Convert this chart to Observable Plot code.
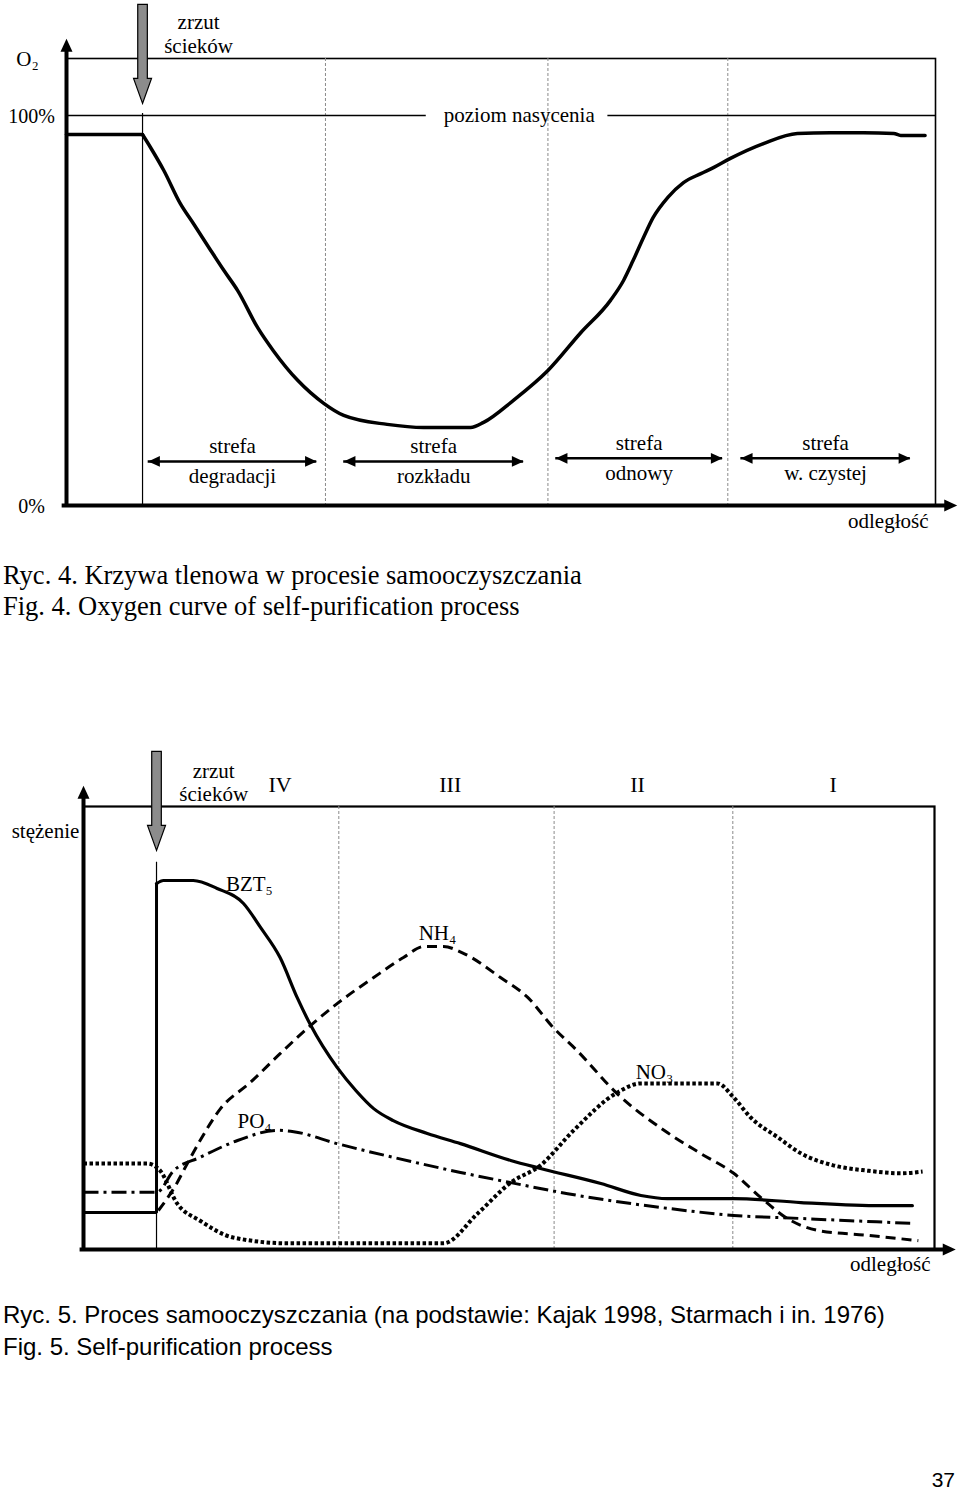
<!DOCTYPE html>
<html>
<head>
<meta charset="utf-8">
<script src="https://cdn.jsdelivr.net/npm/d3@7"></script>
<script src="https://cdn.jsdelivr.net/npm/@observablehq/plot@0.6"></script>
<style>
  html, body { margin: 0; padding: 0; background: #fff; }
  body { width: 960px; height: 1494px; position: relative; overflow: hidden; color: #000; }
  #fig4 { position: absolute; left: 0; top: 0; }
  #fig5 { position: absolute; left: 0; top: 740px; }
  .cap { position: absolute; left: 3px; white-space: nowrap; color: #000; }
  #cap4 { top: 559.5px; font: 26.5px/31px "Liberation Serif", "Times New Roman", serif; }
  #cap5 { top: 1299px; font: 24px/32px "Liberation Sans", Arial, sans-serif; }
  #page { position: absolute; right: 5px; top: 1466px; font: 21px/28px "Liberation Sans", Arial, sans-serif; }
</style>
</head>
<body>
<div id="fig4"></div>
<div id="cap4" class="cap">Ryc. 4. Krzywa tlenowa w procesie samooczyszczania<br>Fig. 4. Oxygen curve of self-purification process</div>
<div id="fig5"></div>
<div id="cap5" class="cap">Ryc. 5. Proces samooczyszczania (na podstawie: Kajak 1998, Starmach i in. 1976)<br>Fig. 5. Self-purification process</div>
<div id="page">37</div>
<script>
// ================= Fig. 4 data (x: relative distance 0–100, y: O2 in % of saturation) =================
const o2Distance = [0, 8.75, 9.67, 11.2, 13.1, 14.6, 16.6, 18.1, 19.7, 22.0, 23.8, 26.6, 29.6, 31.9, 36.9, 41.1, 46.5, 48.0, 51.4, 55.4, 59.1, 62.6, 64.1, 65.2, 66.4, 67.5, 69.2, 71.0, 73.0, 74.5, 76.4, 80.2, 84.1, 87.9, 91.7, 95.2, 96.0, 98.8];
const o2Percent  = [95.1, 95.1, 91.8, 85.9, 77.4, 72.3, 65.4, 60.3, 55.1, 45.6, 39.7, 32.1, 26.2, 23.1, 20.8, 20.0, 20.0, 21.3, 26.9, 34.6, 44.1, 52.6, 57.7, 62.8, 68.7, 73.8, 79.0, 82.8, 85.1, 86.7, 89.0, 92.8, 95.4, 95.6, 95.6, 95.4, 94.9, 94.9];
const o2Discharge = 8.75;
const o2ZoneBounds = [29.8, 55.4, 76.1];
const o2ZoneStart = [9.4, 31.9, 56.3, 77.6];
const o2ZoneEnd   = [28.8, 52.6, 75.5, 97.1];
const o2ZoneLevel = [11.3, 11.3, 12.1, 12.1];
const o2ZoneWord  = ["strefa", "strefa", "strefa", "strefa"];
const o2ZoneName  = ["degradacji", "rozkładu", "odnowy", "w. czystej"];
const o2Ticks = [0, 100];
const o2Saturation = 100;
const o2SaturationFrom = [0, 62.3];
const o2SaturationTo   = [41.4, 100];
const o2SaturationLabelX = 52.1;
const o2DischargeLabelX = 15.2;
const o2AxisEndX = 102.5, o2AxisEndY = 119.7, o2ArrowTip = 103.1;

// ================= Fig. 5 data (x: relative distance 0–100, y: relative concentration 0–100) =================
const bztDistance = [0, 8.58, 8.58, 9.4, 12.9, 15.7, 18.8, 20.8, 23.1, 25.1, 26.7, 29.8, 32.0, 34.1, 36.4, 40.4, 44.3, 50.2, 53.7, 60.8, 65.5, 68.6, 76.4, 84.3, 93.7, 97.4];
const bztValue    = [8.35, 8.35, 82.6, 83.3, 83.3, 81.5, 78.1, 72.7, 65.9, 56.9, 50.6, 41.1, 35.9, 31.8, 29.1, 26.2, 23.9, 20.1, 18.3, 14.9, 12.2, 11.5, 11.5, 10.6, 9.9, 9.9];
const nh4Distance = [8.8, 10.8, 12.2, 13.7, 16.1, 19.6, 23.1, 26.7, 29.8, 34.1, 37.6, 40.0, 42.3, 44.7, 49.0, 52.2, 55.2, 58.0, 62.7, 68.6, 72.5, 76.4, 79.6, 82.7, 86.3, 92.1, 98.1];
const nh4Value    = [8.8, 14.4, 19.4, 24.6, 31.8, 37.7, 44.2, 50.6, 55.5, 61.4, 65.9, 68.4, 68.4, 66.8, 61.4, 56.9, 50.1, 44.9, 35.2, 26.4, 21.7, 17.2, 11.7, 7.0, 4.3, 3.2, 2.0];
const po4Distance = [0, 8.6, 10.6, 13.7, 18.1, 22.8, 24.7, 29.8, 36.4, 44.3, 50.2, 56.9, 68.6, 76.4, 84.3, 97.2];
const po4Value    = [12.9, 12.9, 17.8, 20.8, 24.6, 26.9, 26.6, 23.9, 20.8, 17.4, 15.1, 12.6, 9.3, 7.7, 7.0, 5.9];
const no3Distance = [0, 7.5, 9.0, 11.0, 13.7, 17.6, 24.0, 42.3, 46.3, 50.2, 53.7, 57.6, 62.7, 65.5, 74.5, 76.4, 78.4, 81.6, 84.3, 88.1, 92.1, 96.0, 98.6];
const no3Value    = [19.4, 19.4, 17.8, 10.4, 6.5, 2.7, 1.4, 1.4, 8.1, 15.1, 19.0, 26.9, 35.4, 37.5, 37.5, 34.3, 29.8, 25.3, 21.7, 19.0, 17.8, 17.2, 17.6];
const chemDischarge = 8.58;
const chemZoneBounds = [30.0, 55.3, 76.3];
const chemZoneRoman  = ["IV", "III", "II", "I"];
const chemZoneRomanX = [23.1, 43.1, 65.1, 88.1];
const chemLabel  = ["BZT₅", "NH₄", "NO₃", "PO₄"];
const chemLabelX = [19.5, 41.6, 67.1, 20.1];
const chemLabelY = [81.0, 69.8, 38.6, 27.5];
const chemDischargeLabelX = 15.3;
const chemAxisEndX = 102.5, chemAxisEndY = 104.7, chemArrowTip = 90.1, chemDischargeLineTop = 87.4;

// ================= helpers =================
const rows = (xs, ys) => xs.map((x, i) => ({x, y: ys[i]}));
const serif = '"Liberation Serif", "Times New Roman", serif';
const K = v => () => v;

// filled triangle, tip at the anchor point, pointing in direction `angle`
function tri(angle) {
  const c = Math.cos(angle), s = Math.sin(angle);
  return {
    draw(ctx, size) {
      const r = Math.sqrt(size / Math.PI);
      const L = 1.3 * r, W = 0.6 * r;
      const p = [[0, 0], [-L, -W], [-L, W]].map(([x, y]) => [x * c - y * s, x * s + y * c]);
      ctx.moveTo(p[0][0], p[0][1]);
      ctx.lineTo(p[1][0], p[1][1]);
      ctx.lineTo(p[2][0], p[2][1]);
      ctx.closePath();
    }
  };
}
const triLeft = tri(Math.PI), triRight = tri(0), triUp = tri(-Math.PI / 2);
// grey "sewage discharge" arrow, tip at the anchor point
const dischargeArrow = {
  draw(ctx, size) {
    const k = Math.sqrt(size / Math.PI) / 10;
    const hw = 9 * k, hl = 25 * k, sw = 4.8 * k, sl = 74 * k;
    ctx.moveTo(0, 0);
    ctx.lineTo(-hw, -hl);
    ctx.lineTo(-sw, -hl);
    ctx.lineTo(-sw, -hl - sl);
    ctx.lineTo(sw, -hl - sl);
    ctx.lineTo(sw, -hl);
    ctx.lineTo(hw, -hl);
    ctx.closePath();
  }
};

// ================= Fig. 4 =================
const zones4 = o2ZoneStart.map((s, i) => ({
  start: s, end: o2ZoneEnd[i], mid: (s + o2ZoneEnd[i]) / 2,
  level: o2ZoneLevel[i], word: o2ZoneWord[i], name: o2ZoneName[i]
}));
const sat4 = o2SaturationFrom.map((s, i) => ({x1: s, x2: o2SaturationTo[i]}));
const o2Rows = rows(o2Distance, o2Percent);

const fig4 = Plot.plot({
  width: 960, height: 545,
  marginLeft: 66, marginRight: 25, marginTop: 58, marginBottom: 40,
  x: {domain: [0, 100], axis: null},
  y: {domain: [0, 100], range: [505, 115], axis: null},
  style: {fontFamily: serif, background: "#fff", color: "#000", overflow: "visible"},
  marks: [
    Plot.frame({stroke: "#000", strokeWidth: 1.6}),
    Plot.ruleX(o2ZoneBounds, {x: d => d, stroke: "#8a8a8a", strokeWidth: 1, strokeDasharray: "3,2"}),
    Plot.ruleY(sat4, {y: K(o2Saturation), x1: "x1", x2: "x2", stroke: "#000", strokeWidth: 1.5}),
    Plot.text(["poziom nasycenia"], {x: K(o2SaturationLabelX), y: K(o2Saturation), text: d => d, fontSize: 21}),
    Plot.ruleX([o2Discharge], {x: d => d, y1: K(0), y2: K(o2Saturation + 0.5), stroke: "#000", strokeWidth: 1.2}),
    Plot.line(o2Rows.slice(0, 2), {x: "x", y: "y", stroke: "#000", strokeWidth: 3.5}),
    Plot.line(o2Rows.slice(1), {x: "x", y: "y", curve: "monotone-x", stroke: "#000", strokeWidth: 3.5}),
    Plot.ruleY(zones4, {y: "level", x1: "start", x2: "end", stroke: "#000", strokeWidth: 2.6}),
    Plot.dot(zones4, {x: "start", y: "level", symbol: triLeft, r: 9, fill: "#000", stroke: "none"}),
    Plot.dot(zones4, {x: "end", y: "level", symbol: triRight, r: 9, fill: "#000", stroke: "none"}),
    Plot.text(zones4, {x: "mid", y: "level", text: "word", lineAnchor: "bottom", dy: -8, fontSize: 21}),
    Plot.text(zones4, {x: "mid", y: "level", text: "name", lineAnchor: "top", dy: 7, fontSize: 21}),
    // axes
    Plot.ruleY([0], {y: d => d, x1: K(-0.5), x2: K(o2AxisEndX - 1), stroke: "#000", strokeWidth: 4}),
    Plot.dot([0], {x: K(o2AxisEndX), y: d => d, symbol: triRight, r: 10, fill: "#000", stroke: "none"}),
    Plot.ruleX([0], {x: d => d, y1: K(-0.5), y2: K(o2AxisEndY - 1.5), stroke: "#000", strokeWidth: 4}),
    Plot.dot([0], {x: d => d, y: K(o2AxisEndY), symbol: triUp, r: 10, fill: "#000", stroke: "none"}),
    Plot.text(o2Ticks, {y: d => d, text: d => d + "%", frameAnchor: "left", dx: -35, dy: 1, textAnchor: "middle", fontSize: 20}),
    Plot.text(["O₂"], {text: d => d, frameAnchor: "top-left", dx: -39, dy: -7, textAnchor: "middle", fontSize: 21}),
    Plot.text(["odległość"], {text: d => d, frameAnchor: "bottom-right", dx: -7, dy: 22, textAnchor: "end", fontSize: 21}),
    // discharge
    Plot.dot([o2Discharge], {x: d => d, y: K(o2ArrowTip), symbol: dischargeArrow, r: 10, fill: "#8c8c8c", stroke: "#000", strokeWidth: 1.2}),
    Plot.text(["zrzut\nścieków"], {x: K(o2DischargeLabelX), text: d => d, frameAnchor: "top", lineAnchor: "bottom", dy: -6, lineHeight: 1.14, fontSize: 21})
  ]
});
document.getElementById("fig4").appendChild(fig4);

// ================= Fig. 5 =================
const bztRows = rows(bztDistance, bztValue);
const labels5 = chemLabel.map((t, i) => ({t, x: chemLabelX[i], y: chemLabelY[i]}));
const roman5 = chemZoneRoman.map((t, i) => ({t, x: chemZoneRomanX[i]}));

const fig5 = Plot.plot({
  width: 960, height: 550,
  marginLeft: 83, marginRight: 26, marginTop: 66, marginBottom: 41,
  x: {domain: [0, 100], axis: null},
  y: {domain: [0, 100], axis: null},
  style: {fontFamily: serif, background: "#fff", color: "#000", overflow: "visible"},
  marks: [
    Plot.frame({stroke: "#000", strokeWidth: 2.2}),
    Plot.ruleX(chemZoneBounds, {x: d => d, stroke: "#8a8a8a", strokeWidth: 1, strokeDasharray: "3,2"}),
    Plot.ruleX([chemDischarge], {x: d => d, y1: K(0), y2: K(chemDischargeLineTop), stroke: "#000", strokeWidth: 1.2}),
    // series
    Plot.line(rows(no3Distance, no3Value), {x: "x", y: "y", curve: "monotone-x", stroke: "#000", strokeWidth: 4, strokeDasharray: "3.5,2.5", strokeLinecap: "butt", strokeLinejoin: "miter"}),
    Plot.line(rows(po4Distance, po4Value), {x: "x", y: "y", curve: "monotone-x", stroke: "#000", strokeWidth: 3, strokeDasharray: "15,5,3,5", strokeLinecap: "butt"}),
    Plot.line(rows(nh4Distance, nh4Value), {x: "x", y: "y", curve: "monotone-x", stroke: "#000", strokeWidth: 3, strokeDasharray: "10,6", strokeLinecap: "butt"}),
    Plot.line(bztRows.slice(0, 3), {x: "x", y: "y", stroke: "#000", strokeWidth: 3, strokeLinejoin: "miter", strokeLinecap: "butt"}),
    Plot.line(bztRows.slice(2), {x: "x", y: "y", curve: "monotone-x", stroke: "#000", strokeWidth: 3.2}),
    Plot.text(labels5, {x: "x", y: "y", text: "t", lineAnchor: "bottom", fontSize: 21}),
    // axes
    Plot.ruleY([0], {y: d => d, x1: K(-0.4), x2: K(chemAxisEndX - 1), stroke: "#000", strokeWidth: 4}),
    Plot.dot([0], {x: K(chemAxisEndX), y: d => d, symbol: triRight, r: 10, fill: "#000", stroke: "none"}),
    Plot.ruleX([0], {x: d => d, y1: K(-0.4), y2: K(chemAxisEndY - 2), stroke: "#000", strokeWidth: 4}),
    Plot.dot([0], {x: d => d, y: K(chemAxisEndY), symbol: triUp, r: 10, fill: "#000", stroke: "none"}),
    Plot.text(["stężenie"], {text: d => d, frameAnchor: "top-left", dx: -38, dy: 17, textAnchor: "middle", fontSize: 21}),
    Plot.text(["odległość"], {text: d => d, frameAnchor: "bottom-right", dx: -4, dy: 21, textAnchor: "end", fontSize: 21}),
    Plot.text(roman5, {x: "x", text: "t", frameAnchor: "top", lineAnchor: "bottom", dy: -15, fontSize: 22}),
    // discharge
    Plot.dot([chemDischarge], {x: d => d, y: K(chemArrowTip), symbol: dischargeArrow, r: 10, fill: "#8c8c8c", stroke: "#000", strokeWidth: 1.2}),
    Plot.text(["zrzut\nścieków"], {x: K(chemDischargeLabelX), text: d => d, frameAnchor: "top", lineAnchor: "bottom", dy: -6, lineHeight: 1.05, fontSize: 21})
  ]
});
document.getElementById("fig5").appendChild(fig5);
</script>
</body>
</html>
